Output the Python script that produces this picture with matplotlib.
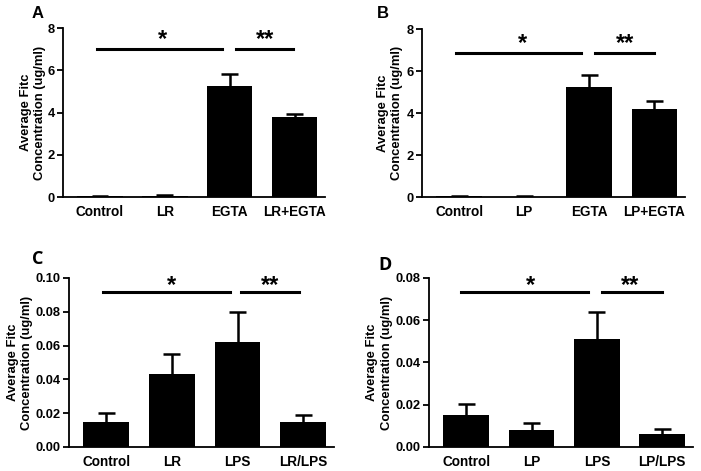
import matplotlib
matplotlib.use('Agg')
import matplotlib.pyplot as plt

plt.rcParams['font.family'] = 'Liberation Sans'
plt.rcParams['font.weight'] = 'bold'

# panel A
labels_a = ['Control', 'LR', 'EGTA', 'LR+EGTA']
means_a = [0.05, 0.05, 5.25, 3.8]
errs_a = [0.02, 0.03, 0.55, 0.15]

# panel B
labels_b = ['Control', 'LP', 'EGTA', 'LP+EGTA']
means_b = [0.05, 0.02, 5.25, 4.2]
errs_b = [0.02, 0.01, 0.55, 0.35]

# panel C
labels_c = ['Control', 'LR', 'LPS', 'LR/LPS']
means_c = [0.015, 0.043, 0.062, 0.015]
errs_c = [0.005, 0.012, 0.018, 0.004]

# panel D
labels_d = ['Control', 'LP', 'LPS', 'LP/LPS']
means_d = [0.015, 0.008, 0.051, 0.006]
errs_d = [0.0055, 0.0033, 0.013, 0.0027]

YLABEL = 'Average Fitc\nConcentration (ug/ml)'


def draw_panel(ax, labels, means, errs, ymax, ystep, fmt, sig_y, star_y,
               line1, line2, star1, star2, label_x):
    x = list(range(len(labels)))
    ax.bar(x, means, width=0.7, color='black', zorder=2)
    # upper-only error bars with a cap
    tops = [m + e for m, e in zip(means, errs)]
    ax.vlines(x, means, tops, color='black', lw=1.8, zorder=1)
    ax.hlines(tops, [i - 0.13 for i in x], [i + 0.13 for i in x],
              color='black', lw=1.8, zorder=1)
    ax.set_xlim(-0.57, 3.47)
    ax.set_ylim(0, ymax)
    n = int(round(ymax / ystep))
    ticks = [i * ystep for i in range(n + 1)]
    ax.set_yticks(ticks)
    ax.set_yticklabels([fmt.format(t) for t in ticks])
    ax.set_xticks(x)
    ax.set_xticklabels(labels)
    ax.tick_params(axis='x', length=0, labelsize=9.8, pad=6)
    ax.tick_params(axis='y', length=4, width=1.3, labelsize=9.3, pad=2)
    for lab in ax.get_xticklabels() + ax.get_yticklabels():
        lab.set_fontweight('bold')
    ax.spines['top'].set_visible(False)
    ax.spines['right'].set_visible(False)
    ax.spines['left'].set_linewidth(1.3)
    ax.spines['bottom'].set_linewidth(1.3)
    ax.set_ylabel(YLABEL, fontsize=9.4, fontweight='bold', linespacing=1.3,
                  va='center')
    ax.yaxis.set_label_coords(label_x, 0.5)
    ax.plot(line1, [sig_y, sig_y], color='black', lw=2.2, clip_on=False)
    ax.plot(line2, [sig_y, sig_y], color='black', lw=2.2, clip_on=False)
    ax.text(star1, star_y, '*', ha='center', va='center', fontsize=17,
            fontweight='bold')
    ax.text(star2, star_y, '**', ha='center', va='center', fontsize=17,
            fontweight='bold')


fig = plt.figure(figsize=(7.01, 4.71), dpi=100)

ax_a = fig.add_axes([0.0899, 0.5817, 0.3738, 0.3588])
draw_panel(ax_a, labels_a, means_a, errs_a, 8, 2, '{:.0f}', 7.0, 7.45,
           [-0.05, 1.88], [2.1, 2.97], 0.97, 2.55, -0.115)

ax_b = fig.add_axes([0.602, 0.5817, 0.375, 0.3567])
draw_panel(ax_b, labels_b, means_b, errs_b, 8, 2, '{:.0f}', 6.85, 7.3,
           [-0.05, 1.87], [2.09, 3.0], 0.97, 2.55, -0.122)

ax_c = fig.add_axes([0.0984, 0.051, 0.378, 0.3588])
draw_panel(ax_c, labels_c, means_c, errs_c, 0.10, 0.02, '{:.2f}', 0.0915, 0.0955,
           [-0.05, 1.89], [2.05, 2.94], 1.0, 2.5, -0.185)

ax_d = fig.add_axes([0.612, 0.051, 0.3766, 0.3588])
draw_panel(ax_d, labels_d, means_d, errs_d, 0.08, 0.02, '{:.2f}', 0.0734, 0.0765,
           [-0.08, 1.87], [2.07, 3.0], 0.98, 2.5, -0.187)

fig.text(38 / 701, 1 - 13 / 471, 'A', fontsize=12, fontweight='bold',
         ha='center', va='center')
fig.text(383 / 701, 1 - 13 / 471, 'B', fontsize=12, fontweight='bold',
         ha='center', va='center')
fig.text(38 / 701, 1 - 259 / 471, 'C', fontsize=13, fontweight='bold',
         family='Open Sans', ha='center', va='center')
fig.text(385 / 701, 1 - 265 / 471, 'D', fontsize=13, fontweight='bold',
         family='Open Sans', ha='center', va='center')

fig.savefig('out.png', dpi=100)
